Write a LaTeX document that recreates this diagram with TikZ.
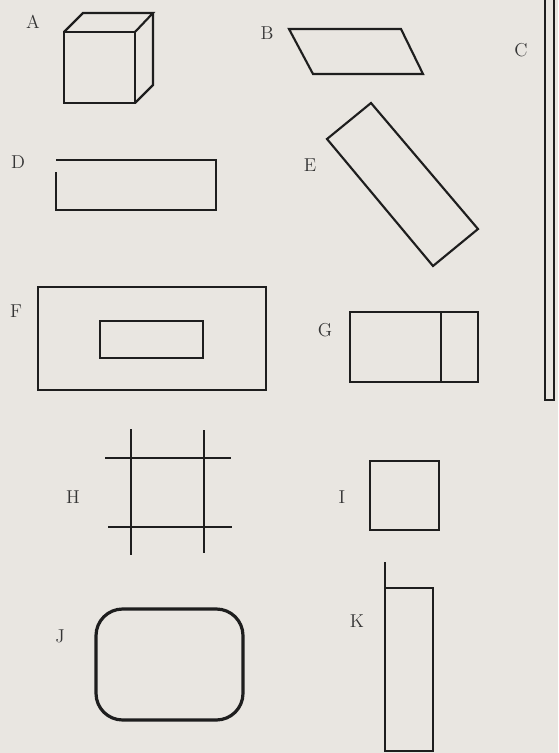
\documentclass[tikz,border=0pt]{standalone}
\definecolor{paper}{HTML}{E9E6E1}
\definecolor{ink}{HTML}{1E1E1E}
\tikzset{
  outline/.style={draw=ink, line width=1.6pt, line join=miter},
  heavyoutline/.style={draw=ink, line width=2.4pt},
  lbl/.style={text=ink!90, font=\fontsize{14}{16}\selectfont, inner sep=0pt}
}
\begin{document}
\begin{tikzpicture}[x=0.75pt,y=-0.75pt]
\useasboundingbox (0,0) rectangle (558,753);
\fill[paper] (0,0) rectangle (558,753);
\clip (0,0) rectangle (558,753);
% A cube
\node[lbl] (la) at (33,22) {A};
\draw[outline] (64,32) rectangle (135,103);
\draw[outline] (64,32) -- (83,13) -- (153,13) -- (135,32);
\draw[outline] (153,13) -- (153,85) -- (135,103);
% B parallelogram
\node[lbl] (lb) at (267,33) {B};
\draw[outline] (289,29) -- (401,29) -- (423,74) -- (313,74) -- cycle;
% C tall bar
\node[lbl] (lc) at (521,50) {C};
\draw[outline] (545,-5) rectangle (554,400);
% D open rectangle
\node[lbl] (ld) at (18,162) {D};
\draw[outline] (56,172) -- (56,210) -- (216,210) -- (216,160) -- (56,160);
% E rotated rectangle
\node[lbl] (le) at (310,165) {E};
\draw[outline] (371,103) -- (478,229) -- (433,266) -- (327,139) -- cycle;
% F nested rectangles
\node[lbl] (lf) at (16,311) {F};
\draw[outline] (38,287) rectangle (266,390);
\draw[outline] (100,321) rectangle (203,358);
% G divided rectangle
\node[lbl] (lg) at (325,330) {G};
\draw[outline] (350,312) rectangle (478,382);
\draw[outline] (441,312) -- (441,382);
% H grid
\node[lbl] (lh) at (73,497) {H};
\draw[outline] (131,429) -- (131,555);
\draw[outline] (204,430) -- (204,553);
\draw[outline] (105,458) -- (231,458);
\draw[outline] (108,527) -- (232,527);
% I square
\node[lbl] (li) at (342,497) {I};
\draw[outline] (370,461) rectangle (439,530);
% J rounded rectangle
\node[lbl] (lj) at (60,636) {J};
\draw[heavyoutline, rounded corners=20pt] (96,609) rectangle (243,720);
% K rectangle with extended side
\node[lbl] (lk) at (357,621) {K};
\draw[outline] (385,562) -- (385,751) -- (433,751) -- (433,588) -- (385,588);
\end{tikzpicture}
\end{document}
